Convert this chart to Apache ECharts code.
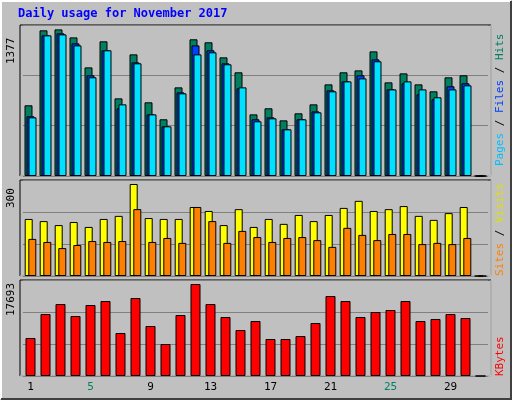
<!DOCTYPE html>
<html>
<head>
<meta charset="utf-8">
<script src="https://cdn.jsdelivr.net/npm/echarts@6/dist/echarts.min.js"></script>
<style>body{margin:0;background:#c0c0c0}#main{width:512px;height:400px}</style>
</head>
<body>
<div id="main"></div>
<script>
var days = [];
for (var i = 1; i <= 31; i++) days.push(String(i));
var weekend = ['4','5','11','12','18','19','25','26'];

var hits  = [662,1364,1373,1298,1017,1261,727,1139,690,531,830,1280,1252,1111,971,577,634,521,587,671,858,971,989,1167,877,961,858,793,924,943,0];
var files = [559,1317,1336,1242,943,1177,634,1064,577,465,783,1223,1177,1055,821,531,549,437,531,605,802,886,943,1092,811,868,765,718,840,868,0];
var pages = [549,1317,1326,1223,924,1177,671,1055,577,465,774,1139,1158,1046,830,512,540,437,531,596,793,886,914,1074,811,886,811,737,811,849,0];
var visits = [186,179,166,176,160,186,196,300,189,186,186,225,212,166,218,160,186,170,199,179,199,222,245,212,218,228,196,183,205,225,0];
var sites  = [121,111,91,101,114,111,114,218,111,124,108,225,179,108,147,127,111,124,127,117,95,157,134,117,137,137,104,108,104,124,0];
var kbytes = [7308,11923,13846,11538,13654,14423,8269,15000,9615,6154,11731,17693,13846,11346,8846,10577,7115,7115,7692,10192,15385,14423,11346,12308,12692,14423,10577,10962,11923,11154,0];

var font = 'DejaVu Sans Mono';
var bord = {borderColor: '#000', borderWidth: 1};

function yAx(idx, max) {
	return {gridIndex: idx, min: 0, max: max, interval: max / 3, axisLabel: {show: false},
		axisLine: {show: false}, axisTick: {show: false},
		splitLine: {lineStyle: {color: '#808080', width: 1}}};
}
function xAx(idx, lab) {
	return {gridIndex: idx, type: 'category', data: days, axisLine: {show: false}, axisTick: {show: false},
		axisLabel: lab ? {show: true, fontFamily: font, fontSize: 11, margin: 6,
			formatter: function(v) { return weekend.indexOf(v) >= 0 ? '{w|' + v + '}' : '{d|' + v + '}'; },
			rich: {w: {color: '#008060', fontFamily: font, fontSize: 11}, d: {color: '#000', fontFamily: font, fontSize: 11}}} : {show: false}};
}
function panel(y, h) {
	return [
		{type: 'rect', shape: {x: 20, y: y, width: 471, height: h}, style: {fill: '#c0c0c0', stroke: '#000', lineWidth: 1}, z: -10},
		{type: 'polyline', shape: {points: [[491, y], [491, y + h], [20, y + h]]}, style: {stroke: '#fff', lineWidth: 1, fill: null}, z: -9}
	];
}

var chart = echarts.init(document.getElementById('main'));
chart.setOption({
	backgroundColor: '#c0c0c0',
	animation: false,
	grid: [
		{left: 23, width: 465, top: 25, height: 151},
		{left: 23, width: 465, top: 180, height: 96},
		{left: 23, width: 465, top: 280, height: 96}
	],
	xAxis: [xAx(0, false), xAx(1, false), xAx(2, true)],
	yAxis: [yAx(0, 1414), yAx(1, 313), yAx(2, 18462)],
	graphic: [
		{type: 'polyline', shape: {points: [[1, 399], [1, 1], [511, 1]]}, style: {stroke: '#fff', lineWidth: 2, fill: null}},
		{type: 'polyline', shape: {points: [[511, 1], [511, 399], [1, 399]]}, style: {stroke: '#404040', lineWidth: 2, fill: null}},
		{type: 'text', left: 18, top: 8, style: {text: 'Daily usage for November 2017', fill: '#0000ff', font: 'bold 12px "DejaVu Sans Mono"'}}
	].concat(panel(25, 151), panel(180, 96), panel(280, 96), [
		{type: 'text', x: 6, y: 64, rotation: Math.PI / 2, style: {text: '1377', fill: '#000', font: '11px "DejaVu Sans Mono"'}},
		{type: 'text', x: 6, y: 208, rotation: Math.PI / 2, style: {text: '300', fill: '#000', font: '11px "DejaVu Sans Mono"'}},
		{type: 'text', x: 6, y: 316, rotation: Math.PI / 2, style: {text: '17693', fill: '#000', font: '11px "DejaVu Sans Mono"'}},
		{type: 'text', x: 495, y: 166, rotation: Math.PI / 2, style: {
			text: '{p|Pages} {s|/} {f|Files} {s|/} {h|Hits}', font: '11px "DejaVu Sans Mono"',
			rich: {p: {fill: '#00c0ff', fontFamily: font, fontSize: 11}, f: {fill: '#0040ff', fontFamily: font, fontSize: 11},
				h: {fill: '#008060', fontFamily: font, fontSize: 11}, s: {fill: '#000', fontFamily: font, fontSize: 11}}}},
		{type: 'text', x: 495, y: 276, rotation: Math.PI / 2, style: {
			text: '{a|Sites} {s|/} {b|Visits}', font: '11px "DejaVu Sans Mono"',
			rich: {a: {fill: '#ff8000', fontFamily: font, fontSize: 11}, b: {fill: '#e0e000', fontFamily: font, fontSize: 11},
				s: {fill: '#000', fontFamily: font, fontSize: 11}}}},
		{type: 'text', x: 495, y: 376, rotation: Math.PI / 2, style: {text: 'KBytes', fill: '#ff0000', font: '11px "DejaVu Sans Mono"'}}
	]),
	series: [
		{name: 'Hits', type: 'bar', xAxisIndex: 0, yAxisIndex: 0, data: hits, barWidth: 8, barGap: '-75%', itemStyle: Object.assign({color: '#008060'}, bord)},
		{name: 'Files', type: 'bar', xAxisIndex: 0, yAxisIndex: 0, data: files, barWidth: 8, barGap: '-75%', itemStyle: Object.assign({color: '#0040ff'}, bord)},
		{name: 'Pages', type: 'bar', xAxisIndex: 0, yAxisIndex: 0, data: pages, barWidth: 8, barGap: '-75%', itemStyle: Object.assign({color: '#00e0ff'}, bord)},
		{name: 'Visits', type: 'bar', xAxisIndex: 1, yAxisIndex: 1, data: visits, barWidth: 8, barGap: '-55%', itemStyle: Object.assign({color: '#ffff00'}, bord)},
		{name: 'Sites', type: 'bar', xAxisIndex: 1, yAxisIndex: 1, data: sites, barWidth: 8, barGap: '-55%', itemStyle: Object.assign({color: '#ff8000'}, bord)},
		{name: 'KBytes', type: 'bar', xAxisIndex: 2, yAxisIndex: 2, data: kbytes, barWidth: 10, itemStyle: Object.assign({color: '#ff0000'}, bord)}
	]
});
</script>
</body>
</html>
